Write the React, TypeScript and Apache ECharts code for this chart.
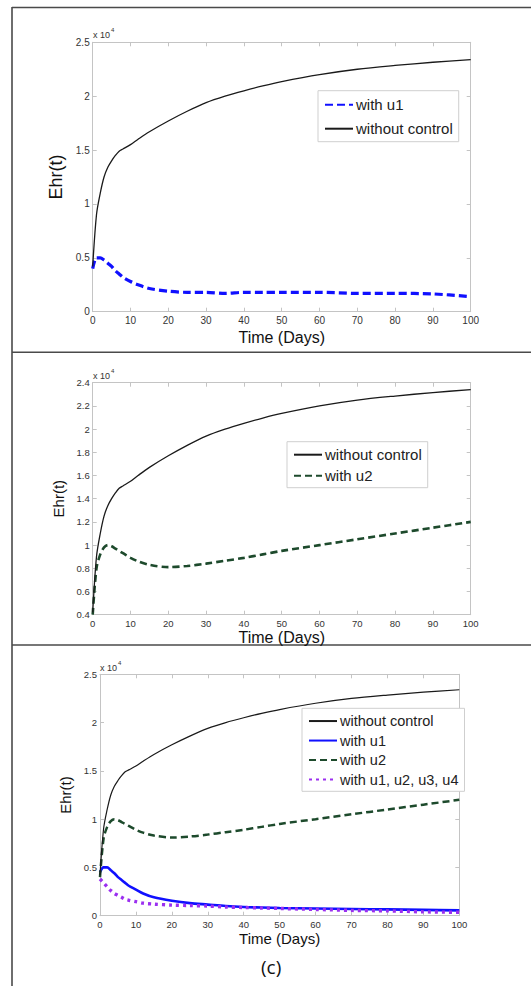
import React, { useEffect, useRef } from "react";
import * as echarts from "echarts";

// time points (days)
const T = [0, 1, 2, 3, 4, 5, 6, 7, 8, 10, 12, 15, 20, 25, 30, 35, 40, 45, 50, 60, 70, 80, 90, 100];

// values in units of 10^4
const withoutControl = [0.42, 0.9, 1.1, 1.25, 1.34, 1.4, 1.45, 1.49, 1.51, 1.55, 1.6, 1.67, 1.77, 1.86, 1.94, 2.0, 2.05, 2.095, 2.135, 2.2, 2.25, 2.285, 2.315, 2.34];
const withU1Dashed = [0.4, 0.5, 0.5, 0.48, 0.45, 0.42, 0.38, 0.35, 0.32, 0.28, 0.25, 0.215, 0.19, 0.18, 0.18, 0.17, 0.18, 0.18, 0.18, 0.18, 0.17, 0.17, 0.165, 0.14];
const withU2 = [0.4, 0.8, 0.92, 0.98, 1.0, 0.99, 0.97, 0.95, 0.93, 0.89, 0.86, 0.83, 0.81, 0.82, 0.84, 0.865, 0.89, 0.92, 0.95, 1.0, 1.05, 1.1, 1.15, 1.2];
const withU1Solid = [0.45, 0.5, 0.5, 0.47, 0.44, 0.4, 0.37, 0.34, 0.31, 0.27, 0.23, 0.19, 0.155, 0.13, 0.115, 0.1, 0.09, 0.085, 0.08, 0.075, 0.07, 0.065, 0.06, 0.055];
const withAll = [0.38, 0.34, 0.3, 0.26, 0.23, 0.21, 0.19, 0.17, 0.16, 0.145, 0.13, 0.12, 0.11, 0.105, 0.1, 0.09, 0.085, 0.08, 0.075, 0.065, 0.055, 0.05, 0.04, 0.035];

const xTicks = [0, 10, 20, 30, 40, 50, 60, 70, 80, 90, 100];

const FONT = "'Liberation Sans', Arial, sans-serif";
const pts = (v: number[]) => T.map((t, i) => [t, v[i]]);

export default function App() {
  const ref = useRef<HTMLDivElement>(null);
  useEffect(() => {
    if (!ref.current) return;
    const chart = echarts.init(ref.current, undefined, { renderer: "svg" });

    const frameColor = "#c4c4c4";
    const grids = [
      { left: 92.7, top: 42.3, width: 378, height: 269.4 },
      { left: 92.7, top: 382.7, width: 378, height: 232 },
      { left: 100, top: 674.3, width: 359.3, height: 241.4 },
    ];
    const yCfg = [
      { min: 0, max: 2.5, interval: 0.5, nameSize: 18, nameGap: 20, labelSize: 10 },
      { min: 0.4, max: 2.4, interval: 0.2, nameSize: 15, nameGap: 22, labelSize: 9.5 },
      { min: 0, max: 2.5, interval: 0.5, nameSize: 15, nameGap: 21, labelSize: 9.5 },
    ];
    const xNameGap = [18, 13, 14];
    const xNameSize = [16, 16, 15];

    const xAxis: any[] = [];
    const yAxis: any[] = [];
    grids.forEach((g, i) => {
      const common = {
        gridIndex: i,
        type: "value",
        min: 0,
        max: 100,
        interval: 10,
        axisLine: { show: true, onZero: false, lineStyle: { color: frameColor, width: 1 } },
        axisTick: { show: true, inside: true, length: 4, lineStyle: { color: frameColor } },
        splitLine: { show: false },
      };
      xAxis.push({
        ...common,
        position: "bottom",
        name: "Time (Days)",
        nameLocation: "middle",
        nameGap: xNameGap[i],
        nameTextStyle: { fontFamily: FONT, fontSize: xNameSize[i], color: "#111" },
        axisLabel: { show: true, margin: 4, fontFamily: FONT, fontSize: yCfg[i].labelSize, color: "#333",
          formatter: (v: number) => (xTicks.includes(v) ? String(v) : "") },
      });
      xAxis.push({ ...common, position: "top", axisLabel: { show: false } });
      const yc = yCfg[i];
      const yCommon = {
        gridIndex: i,
        type: "value",
        min: yc.min,
        max: yc.max,
        interval: yc.interval,
        axisLine: { show: true, onZero: false, lineStyle: { color: frameColor, width: 1 } },
        axisTick: { show: true, inside: true, length: 4, lineStyle: { color: frameColor } },
        splitLine: { show: false },
      };
      yAxis.push({
        ...yCommon,
        position: "left",
        name: "Ehr(t)",
        nameLocation: "middle",
        nameGap: yc.nameGap,
        nameRotate: 90,
        nameTextStyle: { fontFamily: FONT, fontSize: yc.nameSize, color: "#111" },
        axisLabel: { show: true, margin: 3, fontFamily: FONT, fontSize: yc.labelSize, color: "#333",
          formatter: (v: number) => String(Math.round(v * 10) / 10) },
      });
      yAxis.push({ ...yCommon, position: "right", axisLabel: { show: false } });
    });

    const mk = (name: string, g: number, data: number[], color: string, width: number, type: any, z = 2) => ({
      type: "line",
      name,
      xAxisIndex: g * 2,
      yAxisIndex: g * 2,
      data: pts(data),
      smooth: 0.3,
      symbol: "none",
      showSymbol: false,
      z,
      lineStyle: { color, width, type, cap: "butt" },
      itemStyle: { color },
    });

    const blue = "#1010ff";
    const green = "#1d4a2c";
    const purple = "#9b2ff0";
    const black = "#1a1a1a";

    const series = [
      mk("a:with u1", 0, withU1Dashed, blue, 3.2, [8, 4]),
      mk("a:without control", 0, withoutControl, black, 1.3, "solid", 3),
      mk("b:without control", 1, withoutControl, black, 1.3, "solid", 3),
      mk("b:with u2", 1, withU2, green, 2.6, [7, 4]),
      mk("c:without control", 2, withoutControl, black, 1.2, "solid", 3),
      mk("c:with u1", 2, withU1Solid, blue, 2.6, "solid"),
      mk("c:with u2", 2, withU2, green, 2.5, [7, 4]),
      mk("c:with u1, u2, u3, u4", 2, withAll, purple, 3.4, [3, 4]),
    ];

    const fmt = (n: string) => n.slice(2);
    const legendBase = {
      orient: "vertical",
      selectedMode: false,
      backgroundColor: "#fff",
      borderColor: "#cfcfcf",
      borderWidth: 1,
      itemWidth: 28,
      itemHeight: 14,
      formatter: fmt,
      itemStyle: { opacity: 0, borderWidth: 0, color: "transparent" },
    };
    const legend = [
      { ...legendBase, left: 318, top: 90.7, padding: [5, 6, 4, 6], itemGap: 6,
        textStyle: { fontFamily: FONT, fontSize: 15, color: "#222", lineHeight: 18, padding: [0, 0, 0, -2] },
        data: ["a:with u1", "a:without control"] },
      { ...legendBase, left: 287, top: 441.7, padding: [4, 6, 3, 6], itemGap: 3,
        textStyle: { fontFamily: FONT, fontSize: 15, color: "#222", lineHeight: 18, padding: [0, 0, 0, -2] },
        data: ["b:without control", "b:with u2"] },
      { ...legendBase, left: 302, top: 708.3, padding: [4, 6, 3, 6], itemGap: 2,
        textStyle: { fontFamily: FONT, fontSize: 14.5, color: "#222", lineHeight: 17.5, padding: [0, 0, 0, -2] },
        data: ["c:without control", "c:with u1", "c:with u2", "c:with u1, u2, u3, u4"] },
    ];

    const exp = (x: number, y: number) => ({
      type: "text",
      left: x,
      top: y,
      style: {
        text: "{a|x 10}{b|4}",
        rich: {
          a: { fontFamily: FONT, fontSize: 9, fill: "#333", verticalAlign: "bottom" },
          b: { fontFamily: FONT, fontSize: 6, fill: "#333", verticalAlign: "top", padding: [0, 0, 6, 1] },
        },
      },
    });
    const lineC = "#4a4a4a";
    const hl = (y: number) => ({ type: "line", shape: { x1: 12, y1: y, x2: 531, y2: y }, style: { stroke: lineC, lineWidth: 1.6 } });

    chart.setOption({
      animation: false,
      backgroundColor: "#fff",
      grid: grids.map((g) => ({ ...g, containLabel: false })),
      xAxis,
      yAxis,
      legend,
      series,
      graphic: [
        { type: "line", shape: { x1: 12, y1: 7, x2: 12, y2: 986 }, style: { stroke: lineC, lineWidth: 1.6 } },
        hl(7.5),
        hl(352.3),
        hl(645),
        exp(93, 27),
        exp(93, 368),
        exp(100, 660),
        {
          type: "text",
          left: 261,
          top: 957,
          style: { text: "(c)", fontFamily: "'Open Sans', 'Noto Sans', sans-serif", fontSize: 19, fill: "#111" },
        },
      ],
    });
    return () => chart.dispose();
  }, []);
  return <div ref={ref} style={{ position: "absolute", left: 0, top: 0, width: 531, height: 986 }} />;
}
